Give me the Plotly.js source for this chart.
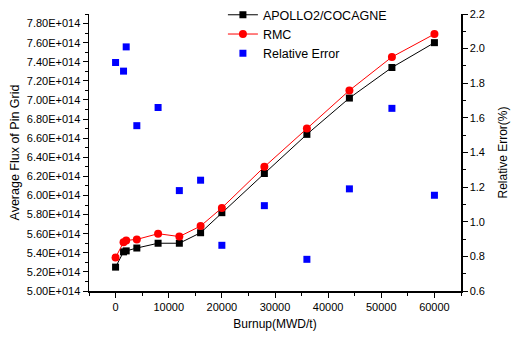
<!DOCTYPE html>
<html><head><meta charset="utf-8">
<script src="https://cdn.plot.ly/plotly-3.0.1.min.js"></script>
<style>html,body{margin:0;padding:0;background:#fff;overflow:hidden}#c{width:516px;height:367px;margin-top:-30px}</style>
</head><body><div id="c"></div>
<script>
const burnup = [0, 1500, 2000, 4000, 8000, 12000, 16000, 20000, 28000, 36000, 44000, 52000, 60000];
const apollo = [5.25e14, 5.41e14, 5.42e14, 5.45e14, 5.50e14, 5.50e14, 5.61e14, 5.82e14, 6.23e14, 6.64e14, 7.02e14, 7.34e14, 7.60e14];
const rmc = [5.35e14, 5.51e14, 5.53e14, 5.54e14, 5.60e14, 5.57e14, 5.68e14, 5.87e14, 6.30e14, 6.70e14, 7.10e14, 7.45e14, 7.69e14];
const relErr = [1.92, 1.87, 2.01, 1.555, 1.66, 1.18, 1.24, 0.864, 1.093, 0.783, 1.19, 1.655, 1.153];
const leftTickVals = [5.0e14, 5.2e14, 5.4e14, 5.6e14, 5.8e14, 6.0e14, 6.2e14, 6.4e14, 6.6e14, 6.8e14, 7.0e14, 7.2e14, 7.4e14, 7.6e14, 7.8e14];
const leftTickText = ["5.00E+014","5.20E+014","5.40E+014","5.60E+014","5.80E+014","6.00E+014","6.20E+014","6.40E+014","6.60E+014","6.80E+014","7.00E+014","7.20E+014","7.40E+014","7.60E+014","7.80E+014"];
const rightTickVals = [0.6, 0.8, 1.0, 1.2, 1.4, 1.6, 1.8, 2.0, 2.2];
const rightTickText = ["0.6","0.8","1.0","1.2","1.4","1.6","1.8","2.0","2.2"];
const xTickVals = [0, 10000, 20000, 30000, 40000, 50000, 60000];
const xTickText = ["0","10000","20000","30000","40000","50000","60000"];

const font = "Liberation Sans, Arial, sans-serif";
const traces = [
  {x: burnup, y: apollo, name: "APOLLO2/COCAGNE", type: "scatter", mode: "lines+markers",
   line: {color: "#000", width: 1}, marker: {symbol: "square", size: 7, color: "#000"}},
  {x: burnup, y: rmc, name: "RMC", type: "scatter", mode: "lines+markers",
   line: {color: "#ff0000", width: 1}, marker: {symbol: "circle", size: 8, color: "#ff0000"}},
  {x: burnup, y: relErr, name: "Relative Error", type: "scatter", mode: "markers", yaxis: "y2",
   marker: {symbol: "square", size: 7, color: "#0000ff"}}
];
const layout = {
  width: 516, height: 367,
  margin: {l: 89, r: 55, t: 44, b: 46, autoexpand: false},
  paper_bgcolor: "#fff", plot_bgcolor: "#fff",
  font: {family: font, size: 11, color: "#000"},
  showlegend: true,
  legend: {x: 0.36, y: 1.05, xanchor: "left", yanchor: "top", bgcolor: "rgba(0,0,0,0)",
    font: {family: font, size: 12.5, color: "#000"}, tracegroupgap: 0, itemwidth: 30},
  xaxis: {range: [-5000, 65000], showline: true, linecolor: "#000", linewidth: 1.5, mirror: false,
    showgrid: false, zeroline: false, ticks: "outside", ticklen: 5, tickcolor: "#000",
    tickmode: "array", tickvals: xTickVals, ticktext: xTickText,
    minor: {dtick: 5000, tick0: 0, ticks: "outside", ticklen: 3, tickcolor: "#000", showgrid: false},
    title: {text: "Burnup(MWD/t)", font: {family: font, size: 12}, standoff: 8}},
  yaxis: {range: [5.0e14, 7.9e14], showline: true, linecolor: "#000", linewidth: 1.5,
    showgrid: false, zeroline: false, ticks: "outside", ticklen: 5, tickcolor: "#000",
    tickmode: "array", tickvals: leftTickVals, ticktext: leftTickText,
    minor: {dtick: 0.1e14, tick0: 5.0e14, ticks: "outside", ticklen: 3, tickcolor: "#000", showgrid: false},
    title: {text: "Average Flux of Pin Grid", font: {family: font, size: 12.5}, standoff: 4}},
  yaxis2: {range: [0.6, 2.2], overlaying: "y", side: "right", showline: true, linecolor: "#000", linewidth: 1.5,
    showgrid: false, zeroline: false, ticks: "outside", ticklen: 5, tickcolor: "#000",
    tickmode: "array", tickvals: rightTickVals, ticktext: rightTickText,
    minor: {dtick: 0.1, tick0: 0.6, ticks: "outside", ticklen: 3, tickcolor: "#000", showgrid: false},
    title: {text: "Relative Error(%)", font: {family: font, size: 12}, standoff: 14}}
};
Plotly.newPlot("c", traces, layout, {staticPlot: true, displayModeBar: false});
</script></body></html>
